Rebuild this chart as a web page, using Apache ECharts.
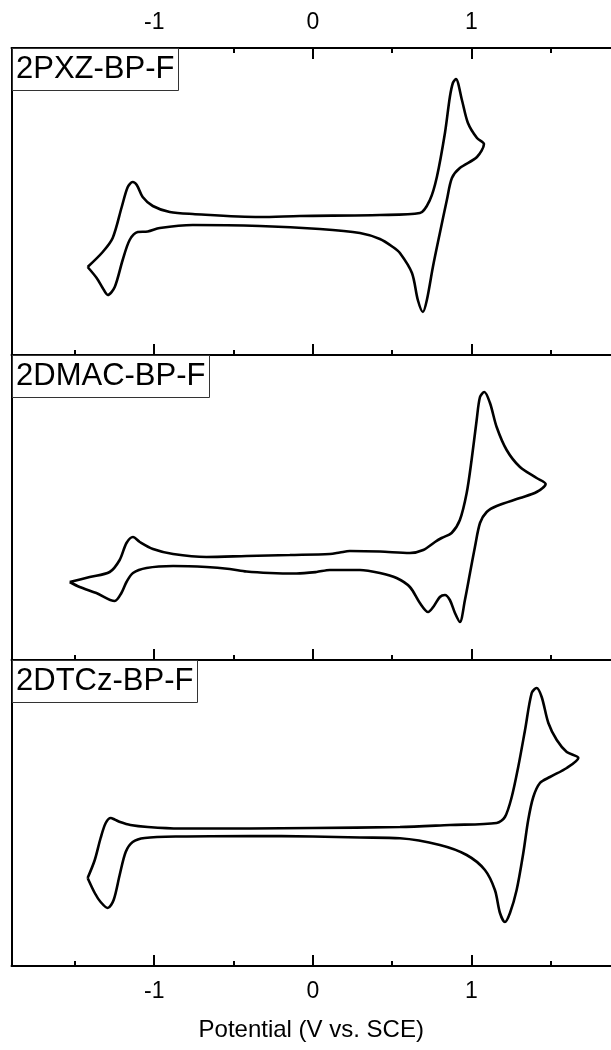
<!DOCTYPE html>
<html>
<head>
<meta charset="utf-8">
<script src="https://cdn.jsdelivr.net/npm/echarts@6/dist/echarts.min.js"></script>
<style>html,body{margin:0;padding:0;background:#fff}#c{width:611px;height:1050px}</style>
</head>
<body>
<div id="c"></div>
<script>
// ---- data (potential in V vs. SCE, current in arbitrary units) ----
const panelNames = ['2PXZ-BP-F', '2DMAC-BP-F', '2DTCz-BP-F'];
const xTitle = 'Potential (V vs. SCE)';
const majorTicks = [-1, 0, 1];
const minorTicks = [-1.5, -0.5, 0.5, 1.5];

const pxzV = [-1.420,-1.363,-1.325,-1.293,-1.249,-1.199,-1.155,-1.104,-1.041,-0.965,-0.757,-0.334,0.044,0.297,0.423,0.505,0.549,0.625,0.662,0.694,0.719,0.757,0.801,0.845,0.877,0.927,1.035,1.079,1.035,0.978,0.940,0.902,0.883,0.864,0.833,0.782,0.738,0.675,0.423,-0.082,-0.334,-0.757,-0.902,-1.009,-1.073,-1.110,-1.136,-1.167,-1.205,-1.262,-1.325,-1.420];
const pxzI = [88,77,67,60,68,95,115,123,123.5,127,130,129,126,122,116,108,102,82,55,43,55,88,122,155,177,187,198,211,217,232,255,276,272,258,222,178,155,142,140,139,138,141,143,149,158,170,173,168,148,117,103,88];

const dmacV = [-1.533,-1.470,-1.365,-1.249,-1.207,-1.175,-1.134,-1.049,-0.881,-0.671,-0.524,-0.418,-0.271,-0.103,0.023,0.107,0.297,0.423,0.528,0.612,0.675,0.727,0.759,0.801,0.833,0.864,0.896,0.927,0.959,0.991,1.022,1.054,1.096,1.159,1.306,1.411,1.468,1.411,1.306,1.222,1.159,1.117,1.081,1.054,1.033,1.001,0.970,0.927,0.875,0.812,0.770,0.696,0.612,0.423,0.233,0.170,0.107,-0.145,-0.418,-0.671,-0.881,-1.008,-1.091,-1.134,-1.175,-1.218,-1.281,-1.407,-1.533];
const dmacI = [78,73,67,59,67,78,87,92,94,93,91,88.5,87,86.5,88,90,90,87,82,73,57,48,53,63,65,60,47,38,60,87,113,137,148,154,162,168,176,182,193,210,233,257,268,263,240,200,167,140,127,122,118,110,107,108.5,109,107.5,106,105,104,103,106,111,118,123,117,100,88,83,78];

const dtczV = [-1.420,-1.375,-1.338,-1.293,-1.256,-1.218,-1.180,-1.136,-1.060,-0.839,-0.397,0,0.297,0.549,0.801,0.970,1.085,1.148,1.180,1.211,1.243,1.285,1.327,1.358,1.390,1.432,1.495,1.601,1.674,1.601,1.538,1.485,1.443,1.411,1.380,1.338,1.295,1.254,1.211,1.159,0.864,0.549,0,-0.397,-0.839,-1.040,-1.150,-1.215,-1.250,-1.274,-1.306,-1.338,-1.375,-1.420];
const dtczI = [88,73,64,58,66,91,114,124,128,129.5,130,129.5,128.5,127.7,121,111,96,76,53,44,53,76,113,146,169,183,189,198,208,214,226,243,269,278,273,236,199,169,149,143,141,139,138,137.5,137.5,139,141,144,146.5,148,143,128,106,88];

const xMin = -1.9, xMax = 1.88;
const yMax = [307, 305, 306];

// ---- build ----
const seriesV = [pxzV, dmacV, dtczV];
const seriesI = [pxzI, dmacI, dtczI];
const tops = [48, 355, 660];
const heights = [307, 305, 306];
const FONT = '"Liberation Sans", Arial, sans-serif';

function majorAxis(gridIndex, position, showLabel) {
  return {
    type: 'value', gridIndex, position, min: xMin, max: xMax,
    axisLine: { show: true, onZero: false, lineStyle: { color: '#000', width: 2 } },
    axisTick: { show: true, inside: true, length: 11, customValues: majorTicks,
      lineStyle: { color: '#000', width: 2 } },
    splitLine: { show: false },
    axisLabel: { show: showLabel, customValues: majorTicks, color: '#000',
      fontSize: 23, fontFamily: FONT, margin: 14 }
  };
}
function minorAxis(gridIndex, position) {
  return {
    type: 'value', gridIndex, position, min: xMin, max: xMax,
    axisLine: { show: false, onZero: false },
    axisTick: { show: true, inside: true, length: 5, customValues: minorTicks,
      lineStyle: { color: '#000', width: 2 } },
    splitLine: { show: false },
    axisLabel: { show: false }
  };
}

const grids = tops.map((t, i) => ({
  left: 11.5, right: 0, top: t, height: heights[i],
  containLabel: false, outerBoundsMode: 'none'
}));
const bottomMajor = majorAxis(2, 'bottom', true);
bottomMajor.name = xTitle;
bottomMajor.nameLocation = 'middle';
bottomMajor.nameGap = 52;
bottomMajor.nameTextStyle = { color: '#000', fontSize: 24, fontFamily: FONT };
const xAxes = [
  majorAxis(0, 'bottom', false), minorAxis(0, 'bottom'),
  majorAxis(0, 'top', true), minorAxis(0, 'top'),
  majorAxis(1, 'bottom', false), minorAxis(1, 'bottom'),
  bottomMajor, minorAxis(2, 'bottom')
];
const xIdx = [0, 4, 6];
const yAxes = yMax.map((m, i) => ({
  type: 'value', gridIndex: i, min: 0, max: m, position: 'left',
  axisLine: { show: true, onZero: false, lineStyle: { color: '#000', width: 2 } },
  axisTick: { show: false }, axisLabel: { show: false }, splitLine: { show: false }
}));
const series = seriesV.map((vs, i) => ({
  type: 'line', xAxisIndex: xIdx[i], yAxisIndex: i,
  data: vs.map((v, k) => [v, seriesI[i][k]]),
  showSymbol: false, smooth: 0.3, silent: true,
  lineStyle: { color: '#000', width: 2.6 }
}));
const titles = panelNames.map((n, i) => ({
  text: n, left: 12, top: tops[i],
  padding: [5, 4, 5, 4],
  backgroundColor: '#fff', borderColor: '#333', borderWidth: 1,
  textStyle: { color: '#000', fontSize: 31, fontWeight: 'normal', fontFamily: FONT, lineHeight: 33 }
}));

const chart = echarts.init(document.getElementById('c'), null, { renderer: 'canvas' });
chart.setOption({
  animation: false, backgroundColor: '#fff',
  title: titles, grid: grids, xAxis: xAxes, yAxis: yAxes, series
});
</script>
</body>
</html>
